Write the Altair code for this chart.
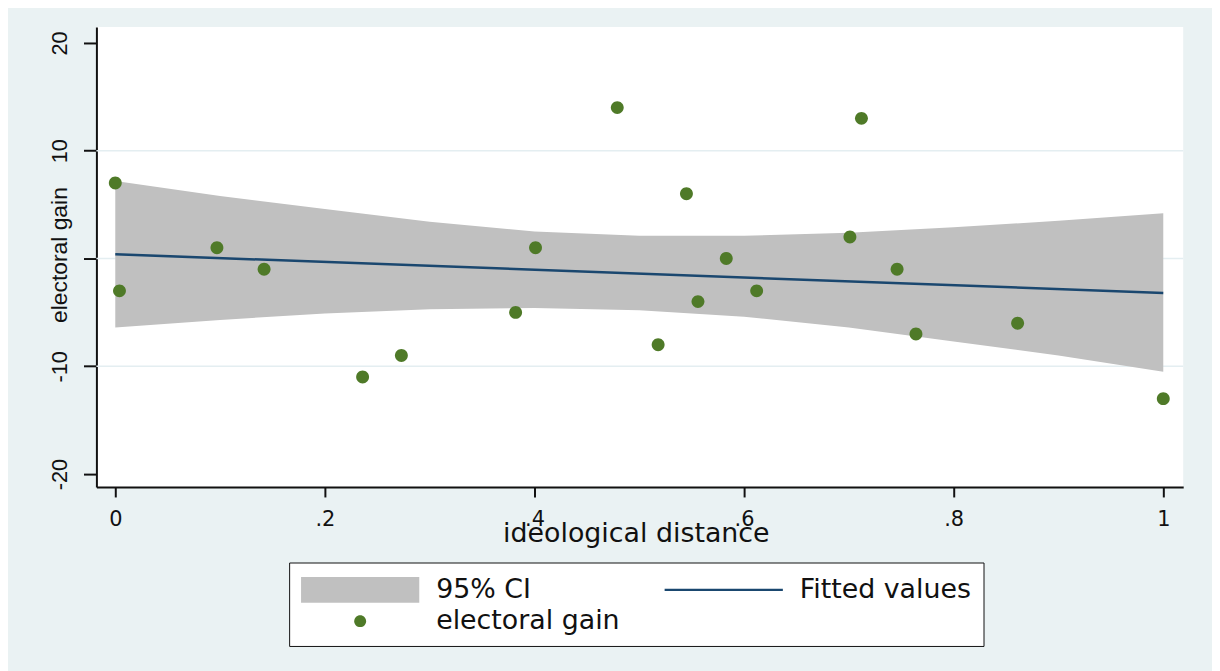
import altair as alt
import pandas as pd

# observed points
ideo_x = [0.0, 0.004, 0.097, 0.142, 0.236, 0.273, 0.382, 0.401, 0.479, 0.518,
          0.545, 0.556, 0.583, 0.612, 0.701, 0.712, 0.746, 0.764, 0.861, 1.0]
gain_y = [7, -3, 1, -1, -11, -9, -5, 1, 14, -8,
          6, -4, 0, -3, 2, 13, -1, -7, -6, -13]

# 95% CI band
ci_x = [0.0, 0.1, 0.2, 0.3, 0.4, 0.5, 0.6, 0.7, 0.8, 0.9, 1.0]
ci_lo = [-6.4, -5.7, -5.1, -4.7, -4.6, -4.8, -5.4, -6.4, -7.7, -9.0, -10.5]
ci_hi = [7.2, 5.8, 4.6, 3.4, 2.5, 2.1, 2.1, 2.4, 2.9, 3.5, 4.2]

# fitted values
fit_x = [0.0, 1.0]
fit_y = [0.4, -3.2]

grid_y = [-10, 0, 10]
x_ticks = [0, 0.2, 0.4, 0.6, 0.8, 1]
y_ticks = [-20, -10, 0, 10, 20]

series = ["95% CI", "Fitted values", "electoral gain"]
series_colors = ["#c0c0c0", "#1a476f", "#4f7a28"]
shape_paths = [
    "M-3.967,-0.867H3.967V0.867H-3.967Z",
    "M-3.967,-0.08H3.967V0.08H-3.967Z",
    "M0.4,0A0.4,0.4 0 1,1 -0.4,0A0.4,0.4 0 1,1 0.4,0Z",
]

pts = pd.DataFrame({"x": ideo_x, "y": gain_y, "series": "electoral gain"})
band = pd.DataFrame({"x": ci_x, "lo": ci_lo, "hi": ci_hi, "series": "95% CI"})
fit = pd.DataFrame({"x": fit_x, "y": fit_y})
grid = pd.DataFrame({"y": grid_y})

H_FONT = "DejaVu Sans"
V_FONT = "Liberation Sans"

xscale = alt.Scale(domain=[-0.018, 1.019], nice=False, zero=False)
yscale = alt.Scale(domain=[-21.2, 21.47], nice=False, zero=False)

xaxis = alt.Axis(
    values=x_ticks, title="ideological distance", grid=False,
    labelExpr="datum.value == 0 ? '0' : datum.value == 1 ? '1' : '.' + round(datum.value*10)",
    labelFont=H_FONT, labelFontSize=21, labelColor="#111111",
    labelBaseline="alphabetic", labelPadding=29, tickSize=10,
    tickColor="#111111", tickWidth=2, domainColor="#111111", domainWidth=2,
    titleFont=H_FONT, titleFontSize=27, titleFontWeight="normal", titleColor="#111111",
    titleX=543, titleY=55, titleBaseline="alphabetic", titleAlign="center",
    labelOverlap=False, labelFlush=False,
)
yaxis = alt.Axis(
    values=y_ticks, title="electoral gain", grid=False,
    labelExpr="datum.value == 0 ? '' : '' + datum.value",
    labelAngle=270, labelAlign="center", labelBaseline="alphabetic",
    labelFont=V_FONT, labelFontSize=22, labelColor="#111111", labelPadding=17,
    tickSize=13, tickColor="#111111", tickWidth=2,
    domainColor="#111111", domainWidth=2,
    titleFont=V_FONT, titleFontSize=23, titleFontWeight="normal", titleColor="#111111",
    titleAngle=270, titleX=-30, titleY=229, titleAlign="center", titleBaseline="alphabetic",
    labelOverlap=False, labelFlush=False,
)

legend = alt.Legend(
    title=None, orient="none", legendX=194, legendY=539, columns=2,
    direction="horizontal", values=series,
    symbolSize=900, symbolStrokeWidth=0, symbolOpacity=1, symbolOffset=44.5,
    labelFont=H_FONT, labelFontSize=27, labelColor="#111111", labelOffset=61.5,
    columnPadding=44, rowPadding=3, padding=12,
    strokeColor="#111111", fillColor="white", labelLimit=400,
)

color = alt.Color("series:N", scale=alt.Scale(domain=series, range=series_colors), legend=legend)
shape = alt.Shape("series:N", scale=alt.Scale(domain=series, range=shape_paths), legend=legend)

grid_layer = alt.Chart(grid).mark_rule(color="#e4eef1", strokeWidth=1.5).encode(
    y=alt.Y("y:Q", scale=yscale, axis=yaxis)
)

band_layer = alt.Chart(band).mark_area(opacity=1).encode(
    x=alt.X("x:Q", scale=xscale, axis=xaxis),
    y=alt.Y("lo:Q", scale=yscale, axis=yaxis),
    y2="hi:Q",
    color=color,
)

fit_layer = alt.Chart(fit).mark_line(color="#1a476f", strokeWidth=2.5).encode(
    x=alt.X("x:Q", scale=xscale, axis=xaxis),
    y=alt.Y("y:Q", scale=yscale, axis=yaxis),
)

pt_layer = alt.Chart(pts).mark_point(filled=True, opacity=1, size=1056, strokeWidth=0).encode(
    x=alt.X("x:Q", scale=xscale, axis=xaxis),
    y=alt.Y("y:Q", scale=yscale, axis=yaxis),
    color=color,
    shape=shape,
)

chart = alt.layer(grid_layer, band_layer, fit_layer, pt_layer).properties(
    width=1094, height=463,
    autosize=alt.AutoSizeParams(type="none"),
    padding={"left": 89, "top": 17, "right": 29, "bottom": 183},
    background="#eaf2f3",
).configure_view(fill="white", stroke=None)

chart.save("out.html", embed_options={"renderer": "svg", "actions": False})
